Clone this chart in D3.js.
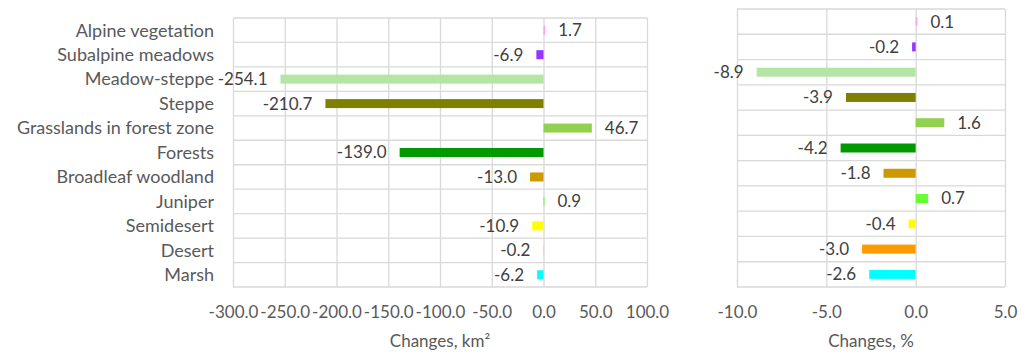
<!DOCTYPE html>
<html>
<head>
<meta charset="utf-8">
<script src="https://cdn.jsdelivr.net/npm/d3@7"></script>
<style>
  body { margin: 0; background: #fff; }
  svg { display: block; font-family: Lato, "Open Sans", sans-serif; }
</style>
</head>
<body>
<svg id="chart" width="1033" height="363"></svg>
<script>
// land cover classes, top to bottom
var categories = ['Alpine vegetation', 'Subalpine meadows', 'Meadow-steppe', 'Steppe',
    'Grasslands in forest zone', 'Forests', 'Broadleaf woodland', 'Juniper',
    'Semidesert', 'Desert', 'Marsh'];
var areaChange = [1.7, -6.9, -254.1, -210.7, 46.7, -139.0, -13.0, 0.9, -10.9, -0.2, -6.2];
var pctChange = [0.1, -0.2, -8.9, -3.9, 1.6, -4.2, -1.8, 0.7, -0.4, -3.0, -2.6];
var barColors = ['#f9a3f3', '#9933ff', '#b4e5a4', '#808000', '#92d050', '#009900',
    '#cc9900', '#66ff33', '#ffff00', '#ff9900', '#00ffff'];
var areaTicks = [-300, -250, -200, -150, -100, -50, 0, 50, 100];
var pctTicks = [-10, -5, 0, 5];

var fmt = d3.formatLocale({decimal: '.', thousands: ',', grouping: [3], currency: ['', ''], minus: '-'}).format('.1f');

var svg = d3.select('#chart');

function drawPanel(opts) {
    var x = d3.scaleLinear()
        .domain(d3.extent(opts.ticks))
        .range([opts.left, opts.right]);
    var y = d3.scaleBand()
        .domain(categories)
        .range([opts.top, opts.bottom]);
    var g = svg.append('g');
    var rows = categories.map(function (c, i) { return {cat: c, value: opts.values[i], color: barColors[i]}; });

    // vertical gridlines from the value axis
    g.append('g')
        .attr('transform', 'translate(0,' + opts.bottom + ')')
        .call(d3.axisBottom(x).tickValues(opts.ticks).tickSize(-(opts.bottom - opts.top)).tickFormat(fmt))
        .call(function (a) {
            a.select('.domain').remove();
            a.selectAll('.tick line').attr('stroke', '#d9d9d9').attr('stroke-width', 1.3);
            a.selectAll('.tick text')
                .attr('y', 26)
                .attr('dy', '0.32em')
                .attr('fill', '#595959')
                .style('font-size', '17px')
                .style('font-family', 'Lato, sans-serif');
        });

    // horizontal gridlines between categories
    var edges = categories.map(function (c) { return y(c); }).concat([opts.bottom]);
    g.selectAll('line.hgrid')
        .data(edges)
        .join('line')
        .attr('class', 'hgrid')
        .attr('x1', opts.left)
        .attr('x2', opts.right)
        .attr('y1', function (d) { return d; })
        .attr('y2', function (d) { return d; })
        .attr('stroke', '#d9d9d9')
        .attr('stroke-width', 1.3);

    var barH = 9;
    g.selectAll('rect.bar')
        .data(rows)
        .join('rect')
        .attr('class', 'bar')
        .attr('x', function (d) { return Math.min(x(0), x(d.value)); })
        .attr('width', function (d) { return Math.abs(x(d.value) - x(0)); })
        .attr('y', function (d) { return y(d.cat) + y.bandwidth() / 2 - barH / 2; })
        .attr('height', barH)
        .attr('fill', function (d) { return d.color; });

    g.selectAll('text.lbl')
        .data(rows)
        .join('text')
        .attr('class', 'lbl')
        .attr('x', function (d) { return d.value < 0 ? x(d.value) - 13 : x(d.value) + 13; })
        .attr('y', function (d) { return y(d.cat) + y.bandwidth() / 2; })
        .attr('dy', '0.35em')
        .attr('text-anchor', function (d) { return d.value < 0 ? 'end' : 'start'; })
        .attr('fill', '#404040')
        .style('font-size', '17px')
        .text(function (d) { return fmt(d.value); });

    g.append('text')
        .attr('x', (opts.left + opts.right) / 2)
        .attr('y', 347)
        .attr('text-anchor', 'middle')
        .attr('fill', '#595959')
        .style('font-size', '17px')
        .text(opts.title);

    return {x: x, y: y, g: g};
}

var leftPanel = drawPanel({values: areaChange, ticks: areaTicks, left: 233, right: 647, top: 18, bottom: 287, title: 'Changes, km²'});
drawPanel({values: pctChange, ticks: pctTicks, left: 737, right: 1005, top: 9, bottom: 287, title: 'Changes, %'});

// category names only on the left chart
leftPanel.g.selectAll('text.cat')
    .data(categories)
    .join('text')
    .attr('class', 'cat')
    .attr('x', 214)
    .attr('y', function (d) { return leftPanel.y(d) + leftPanel.y.bandwidth() / 2; })
    .attr('dy', '0.35em')
    .attr('text-anchor', 'end')
    .attr('fill', '#595959')
    .style('font-size', '18px')
    .text(function (d) { return d; });
</script>
</body>
</html>
